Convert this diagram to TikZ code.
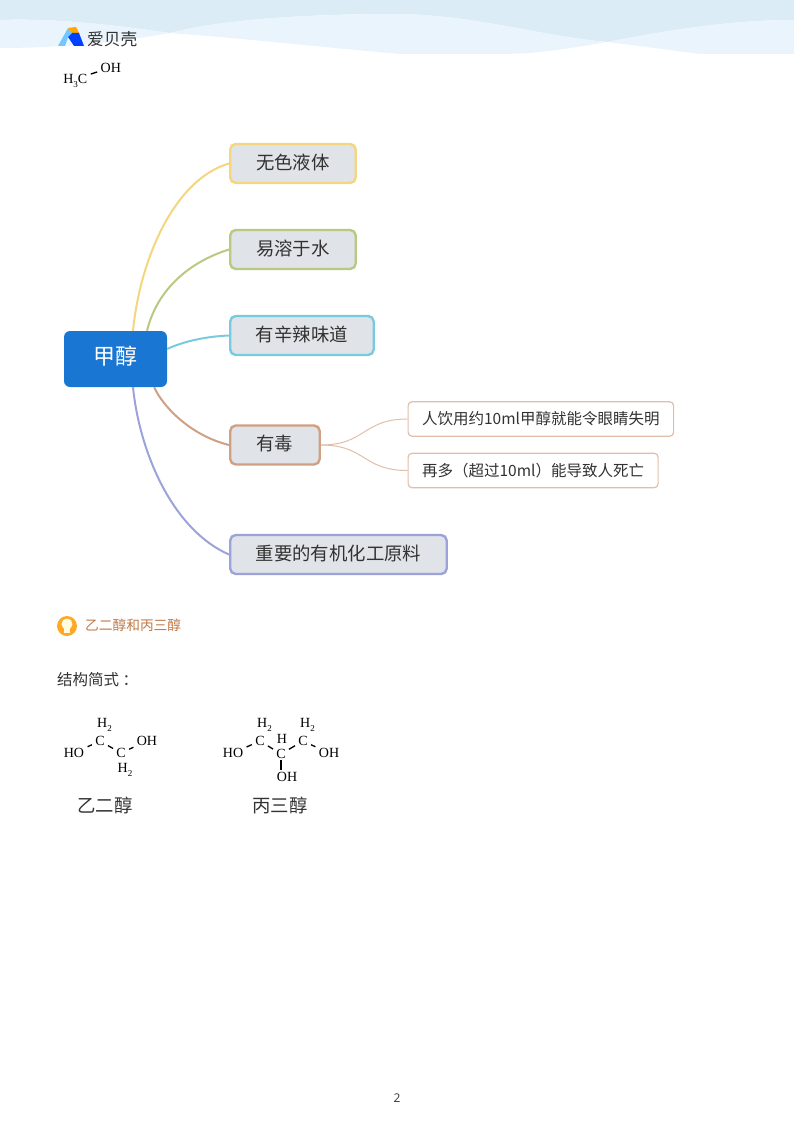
\documentclass[tikz,border=0pt]{standalone}
\usepackage{fontspec}
\setmainfont{Noto Sans CJK SC}
\newfontfamily\chemfont{Liberation Serif}
\newfontfamily\latinfont{Open Sans}
\usetikzlibrary{positioning, calc}
\definecolor{wavedark}{RGB}{220,236,246}
\definecolor{wavelight}{RGB}{234,244,252}
\definecolor{rootblue}{RGB}{25,118,210}
\definecolor{boxgrey}{RGB}{224,227,232}
\definecolor{lineyellow}{RGB}{243,214,125}
\definecolor{linegreen}{RGB}{184,201,130}
\definecolor{linecyan}{RGB}{120,203,222}
\definecolor{linebrown}{RGB}{207,160,132}
\definecolor{linepale}{RGB}{224,190,170}
\definecolor{linepurple}{RGB}{155,163,217}
\definecolor{inktext}{RGB}{50,50,50}
\definecolor{orangetext}{RGB}{190,120,70}
\newcommand{\chemsub}[1]{\raisebox{-3.5pt}{\fontsize{9}{9}\selectfont #1}}
\tikzset{
    topicbox/.style={draw, line width=2.4pt, rounded corners=5.5pt, fill=boxgrey, text=inktext, anchor=west, minimum height=39pt, inner sep=0pt, text height=15.5pt, text depth=4pt, font=\fontsize{18.4}{18}\selectfont},
    subbox/.style={draw=linepale, line width=1.2pt, rounded corners=4pt, fill=white, text=inktext, anchor=west, minimum height=34.5pt, inner sep=0pt, font=\fontsize{15.5}{16}\selectfont},
    branch/.style={line width=2pt},
    twig/.style={line width=1pt, draw=linepale},
    chem/.style={inner sep=0.5pt, text=black, font=\chemfont\fontsize{14}{14}\selectfont},
    bond/.style={line width=1.3pt, black, shorten >=3pt, shorten <=3pt},
    caption/.style={inner sep=0pt, text=inktext, font=\fontsize{18.4}{18}\selectfont}
}
\begin{document}
\begin{tikzpicture}[x=1pt, y=-1pt]
    \useasboundingbox (0,0) rectangle (794,1124);

    % Header waves
    \fill[wavedark] (0,0) -- (794,0) -- (794,20) .. controls (730,20) and (670,30) .. (607,42) .. controls (540,36) and (480,16) .. (400,14) .. controls (300,14) and (220,20) .. (170,33) .. controls (120,26) and (60,18) .. (0,20) -- cycle;
    \fill[wavelight] (0,20) .. controls (60,18) and (120,26) .. (170,33) .. controls (220,20) and (300,14) .. (400,14) .. controls (480,16) and (540,36) .. (607,42) .. controls (670,30) and (730,20) .. (794,20) -- (794,54) -- (700,54) .. controls (670,50) and (640,46) .. (607,42) .. controls (570,48) and (540,54) .. (500,54) -- (400,54) .. controls (320,47) and (240,38) .. (170,33) .. controls (120,42) and (60,48) .. (0,48) -- cycle;

    % Logo
    \fill[blue!40!cyan!55!white] (58,46) -- (68,28) -- (72,33) -- (68,37) -- (65,46) -- cycle;
    \fill[orange!70!yellow] (68,28) -- (76,27) -- (79,33) -- (72,33) -- cycle;
    \fill[blue!75!cyan] (72,33) -- (79,33) -- (84,46) -- (74,46) -- (68,37) -- cycle;
    \node[anchor=west, inner sep=0pt, text=inktext, font=\fontsize{16.7}{16}\selectfont] (logotext) at (87,39) {爱贝壳};

    % Methanol
    \node[chem, anchor=east] (mecarbon) at (88,81) {H\chemsub{3}C};
    \node[chem, anchor=west] (mehydroxy) at (100,68) {OH};
    \draw[bond] ([yshift=6pt]mecarbon.east) -- ([yshift=-3pt]mehydroxy.west);

    % Central topic
    \node[draw=none, fill=rootblue, rounded corners=6pt, minimum width=103pt, minimum height=56pt, inner sep=0pt, text=white, text height=19pt, text depth=8.2pt, font=\fontsize{22}{22}\selectfont] (root) at (115.5,359) {甲醇};

    % Topics
    \node[topicbox, draw=lineyellow, minimum width=125.5pt] (liquid) at (229,163.5) {无色液体};
    \node[topicbox, draw=linegreen, minimum width=125.5pt] (soluble) at (229,249.5) {易溶于水};
    \node[topicbox, draw=linecyan, minimum width=143.5pt] (smell) at (229,335.5) {有辛辣味道};
    \node[topicbox, draw=linebrown, minimum width=89.5pt] (toxic) at (229,445) {有毒};
    \node[topicbox, draw=linepurple, minimum width=216.5pt] (feedstock) at (229,554.5) {重要的有机化工原料};

    % Details of toxic
    \node[subbox, minimum width=265.5pt] (blind) at (407.5,419) {人饮用约10ml甲醇就能令眼睛失明};
    \node[subbox, minimum width=250pt] (death) at (407.5,470.5) {再多（超过10ml）能导致人死亡};

    % Branches
    \draw[branch, lineyellow] ([xshift=17.5pt]root.north) .. controls +(7,-71) and +(-55,16) .. (liquid.west);
    \draw[branch, linegreen] ([xshift=31.5pt]root.north) .. controls +(10,-41) and +(-40,12.5) .. (soluble.west);
    \draw[branch, linecyan] ([yshift=10pt]root.east) .. controls +(15,-7) and +(-25,1) .. (smell.west);
    \draw[branch, linebrown] ([xshift=-13pt]root.south east) .. controls +(8,18) and +(-40,-10) .. (toxic.west);
    \draw[branch, linepurple] ([xshift=17.5pt]root.south) .. controls +(7,68) and +(-55,-24) .. (feedstock.west);
    \draw[twig] (toxic.east) .. controls +(45,0) and +(-45,0) .. (blind.west);
    \draw[twig] (toxic.east) .. controls +(45,0) and +(-45,0) .. (death.west);

    % Section heading
    \fill[orange!80!yellow!85!white] (67,626) circle (10);
    \fill[yellow!12!white] (67,624) circle (5.5);
    \fill[yellow!12!white] (64,628) rectangle (70,633);
    \node[anchor=west, inner sep=0pt, text=orangetext, font=\fontsize{13.7}{14}\selectfont] (heading) at (85,625) {乙二醇和丙三醇};
    \node[anchor=west, inner sep=0pt, text=inktext, font=\fontsize{15.5}{16}\selectfont] (formulas) at (57,680) {结构简式\hspace{3.5pt}：};

    % Ethylene glycol
    \node[chem] (ethtop) at (104.5,725) {H\chemsub{2}};
    \node[chem] (etha) at (100,741) {C};
    \node[chem] (ethb) at (121,753) {C};
    \node[chem] (ethbot) at (125,770) {H\chemsub{2}};
    \node[chem] (ethleft) at (74,753) {HO};
    \node[chem] (ethright) at (147,741) {OH};
    \draw[bond] (ethleft) -- (etha);
    \draw[bond] (etha) -- (ethb);
    \draw[bond] (ethb) -- (ethright);

    % Glycerol
    \node[chem] (glytopa) at (264.5,725) {H\chemsub{2}};
    \node[chem] (glytopb) at (307.5,725) {H\chemsub{2}};
    \node[chem] (glyh) at (282,739) {H};
    \node[chem] (glya) at (260,741) {C};
    \node[chem] (glyb) at (281,754) {C};
    \node[chem] (glyc) at (303,741) {C};
    \node[chem] (glyleft) at (233,753) {HO};
    \node[chem] (glyright) at (329,753) {OH};
    \node[chem] (glybot) at (287,777) {OH};
    \draw[bond] (glyleft) -- (glya);
    \draw[bond] (glya) -- (glyb);
    \draw[bond] (glyb) -- (glyc);
    \draw[bond] (glyc) -- (glyright);
    \draw[bond, shorten <=1pt, shorten >=2pt] (glyb.south) -- (glyb.south |- glybot.north);

    % Captions
    \node[caption] (ethname) at (105,805) {乙二醇};
    \node[caption] (glyname) at (280,805) {丙三醇};

    % Page number
    \node[inner sep=0pt, text=inktext, font=\latinfont\fontsize{12}{12}\selectfont] (pagenum) at (397,1098) {2};
\end{tikzpicture}
\end{document}
